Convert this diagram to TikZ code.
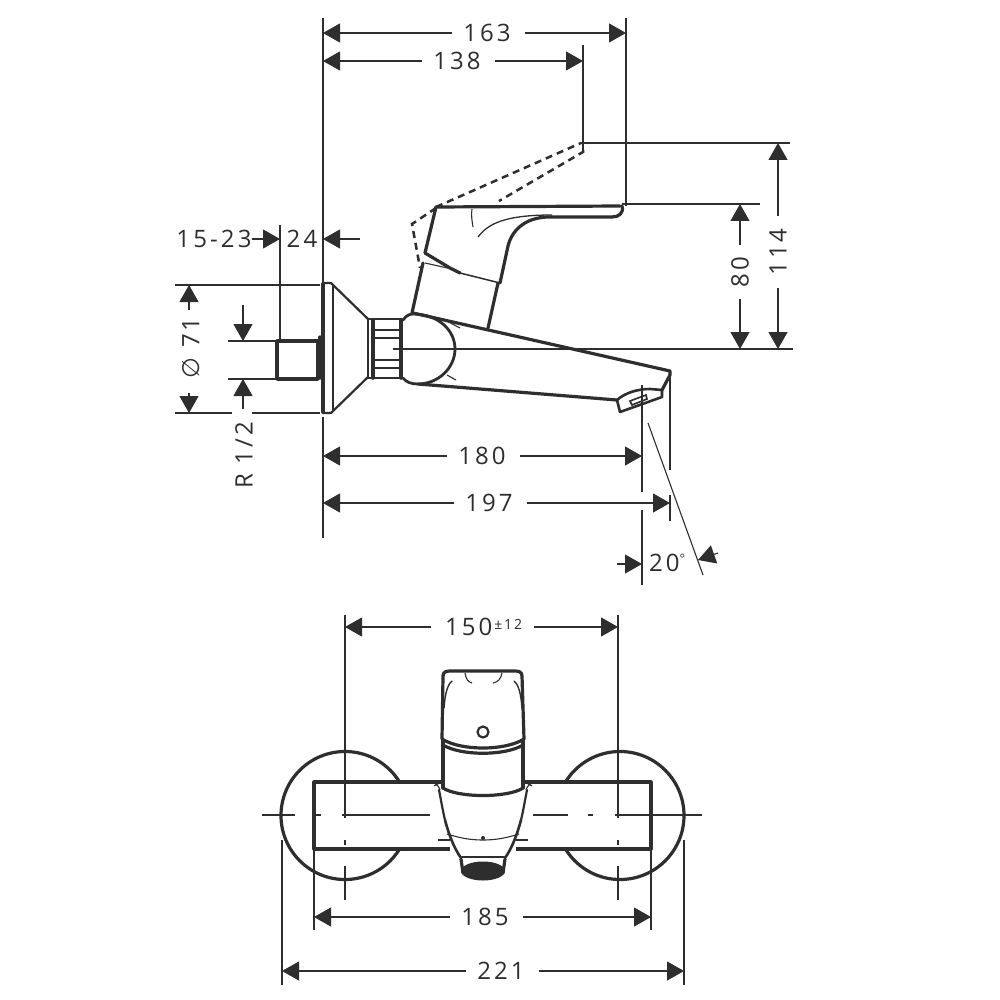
\documentclass[tikz,border=0pt]{standalone}
\usepackage{fontspec}
\setmainfont[LetterSpace=13]{Open Sans}
\usetikzlibrary{arrows.meta}
\definecolor{ink}{HTML}{2E2E2E}
\tikzset{
  fine/.style={line width=1.1pt,draw=ink},
  heavy/.style={line width=3.2pt,draw=ink,line join=round,line cap=round},
  mid/.style={line width=2.2pt,draw=ink,line join=round,line cap=round},
  dash line/.style={line width=2.5pt,draw=ink,dash pattern=on 7pt off 5pt},
  dimtip/.style={-{Triangle[length=17pt,width=19pt,fill=ink]}},
  lbl/.style={font=\fontsize{24}{24}\selectfont,text=ink,inner sep=0pt,outer sep=0pt},
}
% horizontal dimension with a label that breaks the line
\newcommand{\dimH}[6]{%
  \node[lbl,minimum width=0pt] (#1) at (#5,#2) {#6};
  \coordinate (#1L) at (#3,#2); \coordinate (#1R) at (#4,#2);
  \draw[fine,dimtip] ([xshift=-11pt]#1.west|-#1L) -- (#1L);
  \draw[fine,dimtip] ([xshift=14pt]#1.east|-#1R) -- (#1R);
}
% vertical dimension, rotated label
\newcommand{\dimV}[6]{%
  \node[lbl,rotate=90] (#1) at (#2,#5) {#6};
  \coordinate (#1T) at (#2,#3); \coordinate (#1B) at (#2,#4);
  \draw[fine,dimtip] ([yshift=12pt]#1.east-|#1T) -- (#1T);
  \draw[fine,dimtip] ([yshift=-12pt]#1.west-|#1B) -- (#1B);
}
\begin{document}
\begin{tikzpicture}[x=1pt,y=-1pt]
\useasboundingbox[fill=white] (0,0) rectangle (1000,1000);

%% ---------- side view: extension lines
\draw[fine] (323,18) -- (323,283);
\draw[fine] (323,417) -- (323,538);
\draw[fine] (626,18) -- (626,206);
\draw[fine] (583,45) -- (583,150);
\draw[fine] (581,143) -- (790,143);
\draw[fine] (622,204) -- (760,204);
\draw[fine] (393,349) -- (793,349);
\draw[fine] (280,225) -- (280,341);
\draw[fine] (175,285) -- (320,285);
\draw[fine] (175,413) -- (232,413);
\draw[fine] (252,413) -- (320,413);
\draw[fine] (228,341) -- (276,341);
\draw[fine] (228,379) -- (276,379);
\draw[fine] (642,385) -- (642,492);
\draw[fine] (642,510) -- (642,585);
\draw[fine] (670,371) -- (670,470);
\draw[fine] (670,495) -- (670,521);
\draw[fine] (648,423) -- (703,575);

%% ---------- side view: dimensions
\dimH{dA}{33}{323}{626}{487}{163}
\dimH{dB}{61}{323}{583}{457}{138}
\dimH{dC}{456}{323}{642}{482}{180}
\dimH{dD}{503}{323}{670}{489}{197}
\dimV{dE}{778}{143}{349}{252}{114}
\dimV{dF}{740}{204}{349}{272}{80}

\node[lbl] (g1) at (214,239) {15-23};
\coordinate (g1t) at (280,239);
\draw[fine,dimtip] (g1.east) ++(0,0) -- (g1t);
\node[lbl] (g2) at (302,239) {24};
\coordinate (g2t) at (323,239);
\coordinate (g2e) at (360,239);
\draw[fine,dimtip] (g2e) -- (g2t);

\node[lbl,rotate=90] (phi) at (191,348) {\fontspec{DejaVu Sans}\fontsize{24}{24}\selectfont ∅\hspace{10pt}\fontspec[LetterSpace=13]{Open Sans}\fontsize{24}{24}\selectfont 71};
\coordinate (phiT) at (189,285); \coordinate (phiB) at (189,413);
\coordinate (phiT0) at (189,310); \coordinate (phiB0) at (189,393);
\draw[fine,dimtip] (phiT0) -- (phiT);
\draw[fine,dimtip] (phiB0) -- (phiB);

\node[lbl,rotate=90] (rr) at (244,455) {R 1/2};
\coordinate (r1) at (243,341); \coordinate (r2) at (243,379);
\coordinate (r1s) at (243,305); \coordinate (r2s) at (243,409);
\draw[fine,dimtip] (r1s) -- (r1);
\draw[fine,dimtip] (r2s) -- (r2);

\node[lbl,anchor=west] (ang) at (649,563) {20\raisebox{8pt}{\fontsize{13}{13}\selectfont °}};
\coordinate (a1) at (642,564); \coordinate (a1s) at (617,564);
\coordinate (a2) at (698,560); \coordinate (a2s) at (718,553);
\draw[fine,dimtip] (a1s) -- (a1);
\draw[fine,dimtip] (a2s) -- (a2);

%% ---------- side view: wall stub and flange
\draw[heavy,line width=3.6pt] (277,341) rectangle (318,379);
\draw[heavy] (320,337) -- (320,378);
\draw[heavy,line width=3.6pt] (323,284) -- (323,412);
\draw[mid] (323,283) -- (331,283) -- (368,319);
\draw[mid] (323,413) -- (331,413) -- (368,377);
\draw[fine] (333,284) -- (333,412);
\draw[fine] (368,319) -- (368,377);
\draw[mid] (368,319) -- (402,319);
\draw[mid] (368,378) -- (402,378);
\draw[heavy,line width=3.6pt] (373,320) -- (373,378);
\draw[heavy,line width=3.6pt] (401,320) -- (401,378);
\foreach \yy in {330,338,360,368} \draw[mid,line width=2.6pt] (373,\yy) -- (401,\yy);

%% ---------- side view: ball, spout
\draw[heavy,line width=2.8pt] (403,320) .. controls (406,316) and (409,314) .. (413,314)
  .. controls (438,314) and (455,330) .. (455,349)
  .. controls (455,368) and (438,384) .. (418,384)
  .. controls (411,384) and (406,382) .. (403,378);
\draw[heavy] (413,313) -- (670,371) -- (670,375) -- (662,390);
\draw[heavy] (418,384) -- (617,400);
\draw[fine] (443,319) -- (460,328);
\draw[fine] (447,375) -- (456,380);
\draw[mid,line width=2.6pt] (617,400) .. controls (625,393) and (637,389) .. (650,389)
  -- (662,390) -- (662,397) -- (620,412) -- cycle;
\draw[fine,line width=1.6pt] (630,401) -- (646,395) -- (647,399) -- (632,405) -- cycle;

%% ---------- side view: lever
\draw[heavy] (412,313) -- (423,263);
\draw[heavy] (498,283) -- (488,328);
\draw[heavy] (425,253) -- (436,207) -- (620,206);
\draw[heavy] (622,206) .. controls (624,213) and (619,217) .. (612,217)
  -- (547,217) .. controls (525,218) and (512,230) .. (508,246)
  -- (500,283);
\draw[heavy] (425,253) -- (450,268) -- (460,273);
\draw[mid,line width=1.5pt] (460,273) -- (500,283);
\draw[fine] (425,263) -- (452,269);
\draw[fine] (472,209) .. controls (471,215) and (472,221) .. (473,227);
\draw[fine,line width=1.3pt] (478,237) .. controls (488,224) and (504,215) .. (552,215);
%% dashed ghost of the raised lever
\draw[dash line] (436,208) -- (412,224) -- (420,268);
\draw[dash line] (436,207) -- (581,143);
\draw[dash line] (583,150) -- (583,152) -- (499,201);

%% ---------- front view: rosettes and bar
\draw[heavy] (345,815.5) circle[radius=64];
\draw[heavy] (620,815.5) circle[radius=64];
\draw[heavy,fill=white] (314,782) rectangle (651,849);

%% ---------- front view: centre lines
\draw[fine] (262,815) -- (295,815);
\draw[fine] (313,815) -- (321,815);
\draw[fine] (342,815) -- (430,815);
\draw[fine] (533,815) -- (568,815);
\draw[fine] (588,815) -- (593,815);
\draw[fine] (615,815) -- (702,815);
\draw[fine] (345,615) -- (345,818);
\draw[fine] (345,840) -- (345,845);
\draw[fine] (345,866) -- (345,900);
\draw[fine] (618,615) -- (618,818);
\draw[fine] (618,840) -- (618,845);
\draw[fine] (618,866) -- (618,900);
\draw[fine] (314,850) -- (314,930);
\draw[fine] (651,850) -- (651,930);
\draw[fine] (282,840) -- (282,985);
\draw[fine] (684,840) -- (684,985);

%% ---------- front view: body
\fill[white] (439,786) -- (527,786) .. controls (524,810) and (516,840) .. (506,857)
  -- (460,857) .. controls (450,840) and (442,810) .. (439,786) -- cycle;
\fill[white] (450,846) rectangle (516,852);
\draw[fine] (430,782) .. controls (436,783) and (439,786) .. (440,790);
\draw[fine] (536,782) .. controls (530,783) and (527,786) .. (526,790);
\draw[fine] (434,786) -- (443,781);
\draw[fine] (532,786) -- (523,781);
\draw[mid] (439,790) .. controls (441,800) and (443,812) .. (445,820);
\draw[heavy,line width=2.6pt] (445,820) .. controls (449,835) and (454,848) .. (461,858);
\draw[mid] (527,790) .. controls (525,800) and (523,812) .. (521,820);
\draw[heavy,line width=2.6pt] (521,820) .. controls (517,835) and (512,848) .. (505,858);
\draw[fine] (447,834) .. controls (460,838) and (470,840) .. (483,840)
  .. controls (496,840) and (506,838) .. (519,834);
\draw[fine] (438,840) -- (450,840);
\draw[fine] (516,840) -- (528,840);
\fill[ink] (483,838) circle[radius=2];

%% spout end
\draw[mid] (462,857) -- (504,857);
\draw[heavy] (461,859) -- (463,873);
\draw[heavy] (505,859) -- (503,873);
\fill[ink] (483,871) ellipse[x radius=22,y radius=9.5];

%% handle
\fill[white] (443,739) rectangle (523,790);
\draw[heavy] (443,739) -- (443,788);
\draw[heavy] (523,739) -- (523,788);
\draw[heavy,fill=white] (443,788) .. controls (458,798) and (508,798) .. (523,788);
\draw[heavy,fill=white] (442,739) -- (443,676) .. controls (443,672) and (446,671) .. (450,671)
  -- (515,671) .. controls (519,671) and (522,672) .. (522,676) -- (524,739)
  .. controls (505,751) and (461,751) .. (442,739);
\draw[heavy] (443,745) .. controls (461,756) and (505,756) .. (523,745);
\draw[mid,line width=1.4pt] (452,681) .. controls (447,685) and (445,695) .. (444,708);
\draw[mid,line width=1.4pt] (514,681) .. controls (519,685) and (521,695) .. (522,708);
\draw[fine] (465,673) .. controls (466,679) and (468,682) .. (472,683);
\draw[fine] (502,673) .. controls (501,679) and (498,682) .. (493,683);
\draw[mid] (483,732) circle[radius=5.5];

%% ---------- front view: dimensions
\node[lbl,anchor=west] (e1) at (445,627) {150\hspace{2pt}\raisebox{6pt}{\fontsize{14}{14}\selectfont ±12}};
\coordinate (e1L) at (345,627); \coordinate (e1R) at (618,627);
\draw[fine,dimtip] ([xshift=-14pt]e1.west|-e1L) -- (e1L);
\draw[fine,dimtip] ([xshift=12pt]e1.east|-e1R) -- (e1R);
\dimH{e2}{917}{314}{651}{485}{185}
\dimH{e3}{971}{282}{684}{501}{221}
\end{tikzpicture}
\end{document}
